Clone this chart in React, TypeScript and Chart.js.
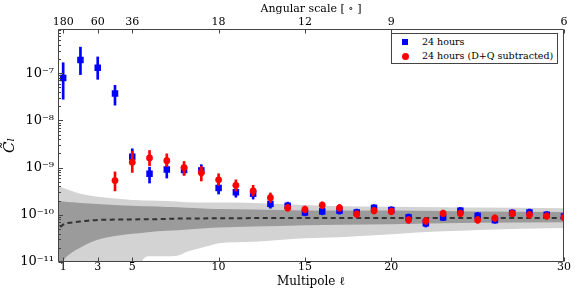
import React, { useEffect, useRef } from 'react';
import { Chart, registerables } from 'chart.js';

Chart.register(...registerables);

// ---------- data ----------
const ELL_BLUE = [1, 2, 3, 4, 5, 6, 7, 8, 9, 10, 11, 12, 13, 14, 15, 16, 17, 18, 19, 20, 21, 22, 23, 24, 25, 26, 27, 28, 29, 30];
const BLUE_CL = [7.9e-8, 1.9e-7, 1.3e-7, 3.7e-8, 1.7e-9, 7.4e-10, 9.1e-10, 8.9e-10, 8.7e-10, 3.7e-10, 3.0e-10, 2.8e-10, 1.7e-10, 1.55e-10, 1.12e-10, 1.18e-10, 1.22e-10, 1.12e-10, 1.4e-10, 1.26e-10, 8.8e-11, 6.6e-11, 8.8e-11, 1.22e-10, 9.5e-11, 7.7e-11, 1.09e-10, 1.12e-10, 1.0e-10, 9.2e-11];
const BLUE_LO = [2.8e-8, 9.3e-8, 7.4e-8, 2.1e-8, 1.17e-9, 4.7e-10, 6.0e-10, 7.1e-10, 6.9e-10, 2.75e-10, 2.35e-10, 2.15e-10, 1.38e-10, 1.3e-10, 9.5e-11, 1.0e-10, 1.03e-10, 9.5e-11, 1.2e-10, 1.07e-10, 7.5e-11, 5.5e-11, 7.5e-11, 1.04e-10, 8.1e-11, 6.6e-11, 9.3e-11, 9.5e-11, 8.6e-11, 7.9e-11];
const BLUE_HI = [1.66e-7, 3.55e-7, 2.2e-7, 5.5e-8, 2.5e-9, 1.02e-9, 1.2e-9, 1.12e-9, 1.15e-9, 4.9e-10, 3.8e-10, 3.5e-10, 2.1e-10, 1.85e-10, 1.32e-10, 1.4e-10, 1.44e-10, 1.32e-10, 1.64e-10, 1.48e-10, 1.04e-10, 7.8e-11, 1.04e-10, 1.43e-10, 1.12e-10, 9.0e-11, 1.28e-10, 1.32e-10, 1.17e-10, 1.08e-10];

const ELL_RED = [4, 5, 6, 7, 8, 9, 10, 11, 12, 13, 14, 15, 16, 17, 18, 19, 20, 21, 22, 23, 24, 25, 26, 27, 28, 29, 30];
const RED_CL = [5.3e-10, 1.3e-9, 1.6e-9, 1.4e-9, 1.0e-9, 7.8e-10, 5.5e-10, 4.2e-10, 3.2e-10, 2.3e-10, 1.4e-10, 1.3e-10, 1.6e-10, 1.4e-10, 1.03e-10, 1.22e-10, 1.18e-10, 7.8e-11, 7.4e-11, 1.07e-10, 1.07e-10, 7.8e-11, 8.5e-11, 1.07e-10, 1.0e-10, 9.4e-11, 8.8e-11];
const RED_LO = [3.2e-10, 7.9e-10, 1.1e-9, 1.05e-9, 6.8e-10, 5.2e-10, 4.2e-10, 3.2e-10, 2.5e-10, 1.82e-10, 1.19e-10, 1.1e-10, 1.36e-10, 1.19e-10, 8.8e-11, 1.04e-10, 1.0e-10, 6.6e-11, 6.3e-11, 9.1e-11, 9.1e-11, 6.6e-11, 7.2e-11, 9.1e-11, 8.5e-11, 8.0e-11, 7.5e-11];
const RED_HI = [8.1e-10, 2.2e-9, 2.3e-9, 1.95e-9, 1.35e-9, 1.05e-9, 7.4e-10, 5.5e-10, 4.2e-10, 2.9e-10, 1.65e-10, 1.53e-10, 1.88e-10, 1.65e-10, 1.21e-10, 1.43e-10, 1.39e-10, 9.2e-11, 8.7e-11, 1.26e-10, 1.26e-10, 9.2e-11, 1.0e-10, 1.26e-10, 1.18e-10, 1.1e-10, 1.03e-10];

const BAND_ELL = [0.5, 1, 1.5, 2, 3, 4, 5, 5.4, 5.9, 7, 7.6, 8.2, 9.4, 10, 12, 15, 17, 20, 23, 25, 30];
const BAND_2S_HI = [4.4e-10, 3.7e-10, 3.2e-10, 2.8e-10, 2.4e-10, 2.2e-10, 2.05e-10, 2.04e-10, 2.0e-10, 1.95e-10, 1.92e-10, 1.85e-10, 1.82e-10, 1.82e-10, 1.78e-10, 1.62e-10, 1.52e-10, 1.48e-10, 1.45e-10, 1.42e-10, 1.38e-10];
const BAND_2S_LO = [3e-12, 3e-12, 3e-12, 3e-12, 3e-12, 3e-12, 3e-12, 8e-12, 1.32e-11, 1.32e-11, 1.35e-11, 1.66e-11, 2.19e-11, 2.51e-11, 2.69e-11, 3.2e-11, 3.35e-11, 3.89e-11, 4.47e-11, 4.79e-11, 5.25e-11];
const BAND_1S_HI = [2.0e-10, 1.91e-10, 1.84e-10, 1.78e-10, 1.70e-10, 1.62e-10, 1.55e-10, 1.53e-10, 1.51e-10, 1.46e-10, 1.45e-10, 1.41e-10, 1.35e-10, 1.32e-10, 1.29e-10, 1.23e-10, 1.23e-10, 1.23e-10, 1.2e-10, 1.17e-10, 1.15e-10];
const BAND_1S_LO = [5e-12, 1.07e-11, 1.58e-11, 2.04e-11, 2.95e-11, 3.55e-11, 3.98e-11, 4.07e-11, 4.27e-11, 4.57e-11, 4.68e-11, 4.9e-11, 5.25e-11, 5.37e-11, 5.62e-11, 6.03e-11, 6.17e-11, 6.31e-11, 6.6e-11, 6.76e-11, 6.92e-11];
const BAND_MEAN = [4.0e-11, 6.2e-11, 6.9e-11, 7.2e-11, 7.8e-11, 7.9e-11, 7.95e-11, 8.0e-11, 8.0e-11, 8.2e-11, 8.3e-11, 8.3e-11, 8.4e-11, 8.4e-11, 8.5e-11, 8.5e-11, 8.5e-11, 8.5e-11, 8.5e-11, 8.5e-11, 8.5e-11];

const X_TICKS = [1, 3, 5, 10, 15, 20, 30];
const X_TICK_LABELS = ['1', '3', '5', '10', '15', '20', '30'];
const TOP_TICK_LABELS = ['180', '60', '36', '18', '12', '9', '6'];
const Y_TICKS = [1e-11, 1e-10, 1e-9, 1e-8, 1e-7];
const Y_TICK_LABELS = ['10⁻¹¹', '10⁻¹⁰', '10⁻⁹', '10⁻⁸', '10⁻⁷'];

const SERIES_NAMES = ['24 hours', '24 hours (D+Q subtracted)'];

const FONT = '"DejaVu Serif", serif';
const FRAME = '#444444';

const framePlugin = {
  id: 'frameTicks',
  afterDatasetsDraw(chart: any) {
    const { ctx, chartArea, scales } = chart;
    const { left, right, top, bottom } = chartArea;
    ctx.save();
    ctx.strokeStyle = FRAME;
    ctx.lineWidth = 1;
    const l = Math.round(left) + 0.5, r = Math.round(right) - 0.5;
    const t = Math.round(top) + 0.5, b = Math.round(bottom) - 0.5;
    ctx.beginPath();
    ctx.rect(l, t, r - l, b - t);
    ctx.stroke();
    const y = scales.y;
    ctx.beginPath();
    for (let e = -12; e <= -6; e++) {
      for (let k = 1; k <= 9; k++) {
        const v = k * Math.pow(10, e);
        if (v < y.min * 0.999 || v > y.max * 1.001) continue;
        const py = Math.round(y.getPixelForValue(v)) + 0.5;
        const len = k === 1 ? 4.5 : 2.5;
        ctx.moveTo(l, py);
        ctx.lineTo(l + len, py);
      }
    }
    const x = scales.x;
    for (const v of X_TICKS) {
      const px = Math.round(x.getPixelForValue(v)) + 0.5;
      ctx.moveTo(px, b);
      ctx.lineTo(px, b - 4);
      ctx.moveTo(px, t);
      ctx.lineTo(px, t + 4);
    }
    ctx.stroke();
    ctx.restore();
  },
};

export default function App() {
  const ref = useRef<HTMLCanvasElement | null>(null);

  useEffect(() => {
    document.body.style.margin = '0';
    document.body.style.overflow = 'hidden';
    const canvas = ref.current;
    if (!canvas) return;

    const band = (vals: number[]) => BAND_ELL.map((x, i) => ({ x, y: vals[i] }));
    const lineBase = {
      type: 'line' as const,
      pointRadius: 0,
      borderWidth: 0,
      showLine: true,
      cubicInterpolationMode: 'monotone' as const,
    };

    const chart = new Chart(canvas, {
      type: 'scatter',
      data: {
        datasets: [
          { ...lineBase, label: 'band2hi', data: band(BAND_2S_HI), fill: false, order: 9, borderColor: 'rgba(0,0,0,0)' },
          { ...lineBase, label: 'band2lo', data: band(BAND_2S_LO), fill: '-1', backgroundColor: '#d3d3d3', order: 8, borderColor: 'rgba(0,0,0,0)' },
          { ...lineBase, label: 'band1hi', data: band(BAND_1S_HI), fill: false, order: 7, borderColor: 'rgba(0,0,0,0)' },
          { ...lineBase, label: 'band1lo', data: band(BAND_1S_LO), fill: '-1', backgroundColor: '#9b9b9b', order: 6, borderColor: 'rgba(0,0,0,0)' },
          { ...lineBase, label: 'mean', data: band(BAND_MEAN), fill: false, order: 5, borderColor: '#333333', borderWidth: 2, borderDash: [5, 3.5] },
          {
            type: 'bar', label: 'blueErr', order: 4, grouped: false, barThickness: 2,
            backgroundColor: '#0000ff', borderWidth: 0,
            data: ELL_BLUE.map((x, i) => ({ x, y: [BLUE_LO[i], BLUE_HI[i]] })),
          } as any,
          {
            type: 'scatter', label: SERIES_NAMES[0], order: 3, pointStyle: 'rect', pointRadius: 4.6,
            backgroundColor: '#0000ff', borderWidth: 0, clip: 0,
            data: ELL_BLUE.map((x, i) => ({ x, y: BLUE_CL[i] })),
          },
          {
            type: 'bar', label: 'redErr', order: 2, grouped: false, barThickness: 2,
            backgroundColor: '#ff0000', borderWidth: 0,
            data: ELL_RED.map((x, i) => ({ x, y: [RED_LO[i], RED_HI[i]] })),
          } as any,
          {
            type: 'scatter', label: SERIES_NAMES[1], order: 1, pointStyle: 'circle', pointRadius: 3.4,
            backgroundColor: '#ff0000', borderWidth: 0, clip: 0,
            data: ELL_RED.map((x, i) => ({ x, y: RED_CL[i] })),
          },
        ] as any,
      },
      options: {
        animation: false,
        responsive: false,
        devicePixelRatio: 1,
        layout: { padding: { left: 0, right: 17, top: 0, bottom: 0 } },
        plugins: { legend: { display: false }, tooltip: { enabled: false } },
        scales: {
          x: {
            type: 'linear', position: 'bottom', min: 0.7, max: 30, offset: false,
            grid: { display: false, drawTicks: false },
            border: { display: false },
            afterBuildTicks: (s: any) => { s.ticks = X_TICKS.map((v) => ({ value: v })); },
            afterFit: (s: any) => { s.height = 29; },
            ticks: {
              autoSkip: false, maxRotation: 0, padding: 0, color: '#000',
              font: { family: FONT, size: 11, lineHeight: 1 },
              callback: (v: any) => X_TICK_LABELS[X_TICKS.indexOf(Number(v))],
            },
            title: {
              display: true, text: 'Multipole ℓ', color: '#000',
              font: { family: FONT, size: 12, lineHeight: 1.2 }, padding: { top: 0, bottom: 2 },
            },
          },
          x2: {
            type: 'linear', position: 'top', min: 0.7, max: 30, offset: false,
            grid: { display: false, drawTicks: false },
            border: { display: false },
            afterBuildTicks: (s: any) => { s.ticks = X_TICKS.map((v) => ({ value: v })); },
            afterFit: (s: any) => { s.height = 29; },
            ticks: {
              autoSkip: false, maxRotation: 0, padding: 1, color: '#000',
              font: { family: FONT, size: 11, lineHeight: 1 },
              callback: (v: any) => TOP_TICK_LABELS[X_TICKS.indexOf(Number(v))],
            },
            title: {
              display: true, text: 'Angular scale [ ∘ ]', color: '#000',
              font: { family: FONT, size: 11, lineHeight: 1.2 }, padding: { top: 3, bottom: 0 },
            },
          },
          y: {
            type: 'logarithmic', position: 'left', min: 1e-11, max: 8.6e-7,
            grid: { display: false, drawTicks: false },
            border: { display: false },
            afterBuildTicks: (s: any) => { s.ticks = Y_TICKS.map((v) => ({ value: v })); },
            afterFit: (s: any) => { s.width = 58; },
            ticks: {
              autoSkip: false, padding: 4, color: '#000',
              font: { family: FONT, size: 13 },
              callback: (v: any) => {
                const i = Y_TICKS.findIndex((t) => Math.abs(t - Number(v)) / t < 1e-6);
                return i >= 0 ? Y_TICK_LABELS[i] : '';
              },
            },
            title: {
              display: true, text: 'C̃ₗ', color: '#000',
              font: { family: FONT, size: 15, style: 'italic' }, padding: { top: 1, bottom: 0 },
            },
          },
        },
      } as any,
      plugins: [framePlugin],
    });
    return () => chart.destroy();
  }, []);

  return (
    <div style={{ position: 'relative', width: 581, height: 291, background: '#fff' }}>
      <canvas ref={ref} width={581} height={291} style={{ display: 'block', width: 581, height: 291 }} />
      <div
        style={{
          position: 'absolute', left: 391, top: 33, width: 167, height: 31,
          border: `1px solid ${FRAME}`, background: '#fff', boxSizing: 'border-box',
          fontFamily: FONT, fontSize: 9.5, color: '#000',
        }}
      >
        <div style={{ position: 'absolute', left: 10, top: 5, width: 6, height: 6, background: '#0000ff' }} />
        <span style={{ position: 'absolute', left: 30, top: 1.5, lineHeight: '12px', whiteSpace: 'nowrap' }}>{SERIES_NAMES[0]}</span>
        <div style={{ position: 'absolute', left: 9.5, top: 18.5, width: 7, height: 7, borderRadius: '50%', background: '#ff0000' }} />
        <span style={{ position: 'absolute', left: 30, top: 15.5, lineHeight: '12px', whiteSpace: 'nowrap' }}>{SERIES_NAMES[1]}</span>
      </div>
    </div>
  );
}
